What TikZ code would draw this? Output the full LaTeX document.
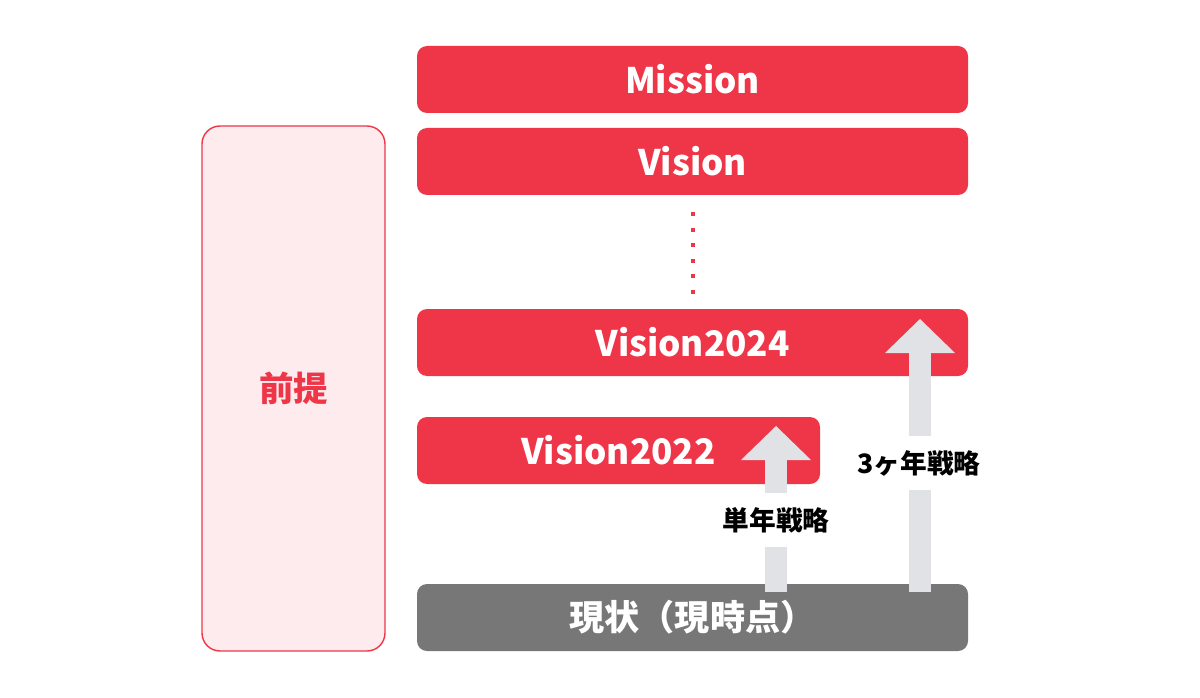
\documentclass[tikz,border=0pt]{standalone}
\usepackage{fontspec}
\setmainfont{Noto Sans CJK JP}
\usepackage{tikz}
\usetikzlibrary{arrows.meta}

\definecolor{mainred}{HTML}{EE3648}
\definecolor{nowgray}{HTML}{777777}
\definecolor{softpink}{HTML}{FDEBEE}
\definecolor{arrowgray}{HTML}{E1E2E5}

\begin{document}
\begin{tikzpicture}[
  redbox/.style={fill=mainred, text=white, rounded corners=0.25cm, inner sep=0pt,
    minimum height=1.675cm, font=\fontsize{25}{30}\selectfont\bfseries},
  upshaft/.style={line width=0.55cm, arrowgray,
    -{Triangle[width=1.75cm 0 0, length=0.85cm 0 0, line width=0pt 0 0]}},
  steplabel/.style={fill=white, inner xsep=2pt, minimum height=1.35cm,
    font=\fontsize{19}{23}\selectfont\bfseries}
]
\useasboundingbox (0,0) rectangle (30,17.425);

\path (7.3375,7.7125) node[draw=mainred, line width=1pt, fill=softpink, rounded corners=0.45cm,
  minimum width=4.575cm, minimum height=13.125cm, text=mainred,
  font=\fontsize{24.5}{29}\selectfont\bfseries] (premise) {前提};

\path (17.3125,15.4375) node[redbox, minimum width=13.775cm] (mission) {Mission};
\path (17.3125,13.3875) node[redbox, minimum width=13.775cm] (vision) {Vision};
\path (17.3125,8.8625) node[redbox, minimum width=13.775cm] (v2024) {Vision2024};
\path (15.4625,6.1625) node[redbox, minimum width=10.075cm] (v2022) {Vision2022};
\path (17.3125,1.9875) node[redbox, minimum width=13.775cm, fill=nowgray] (now) {現状（現時点）};

% dots between Vision and Vision2024
\draw[mainred, line width=0.1cm, dash pattern=on 0.1cm off 0.2875cm,
  shorten <=0.425cm, shorten >=0.375cm] (vision.south) -- (v2024.north);

% strategy arrows
\coordinate (oneyear) at (19.4,2.625);
\coordinate (oneyeartip) at (19.4,6.775);
\coordinate (threeyear) at (23.0,2.625);
\coordinate (threeyeartip) at (23.0,9.45);
\draw[upshaft] (oneyear) -- (oneyeartip);
\draw[upshaft] (threeyear) -- (threeyeartip);

\path (19.4,4.425) node[steplabel] (onelabel) {単年戦略};
\path (22.975,5.85) node[steplabel] (threelabel) {3ヶ年戦略};
\end{tikzpicture}
\end{document}
